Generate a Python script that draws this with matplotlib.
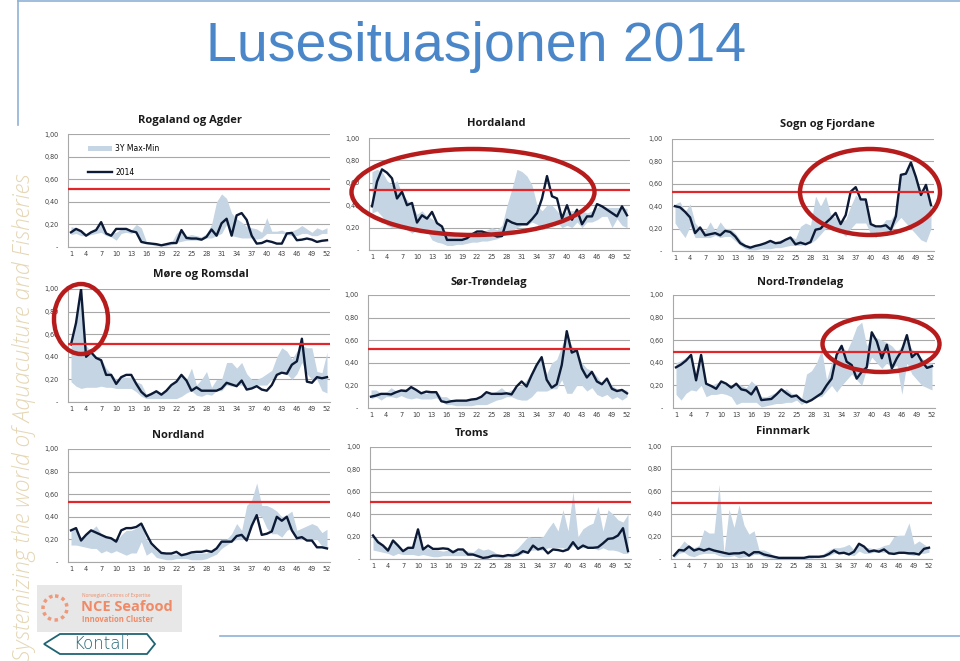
import numpy as np
import matplotlib
matplotlib.use('Agg')
import matplotlib.pyplot as plt
from matplotlib.patches import Ellipse, Rectangle, Polygon, Circle

# ── DATA (lice per fish, week 1-52) ──
weeks = np.arange(1, 53)
week_ticks = [1, 4, 7, 10, 13, 16, 19, 22, 25, 28, 31, 34, 37,
              40, 43, 46, 49, 52]
y_ticks = [0, 0.2, 0.4, 0.6, 0.8, 1.0]
y_labels = ['-', '0,20', '0,40', '0,60', '0,80', '1,00']

rogaland_2014 = [0.13, 0.16, 0.14, 0.10, 0.13, 0.15, 0.22, 0.12, 0.10, 0.16,
                 0.16, 0.16, 0.14, 0.13, 0.045, 0.035, 0.03, 0.025, 0.015, 0.025,
                 0.035, 0.035, 0.15, 0.08, 0.075, 0.075, 0.065, 0.09, 0.155, 0.10,
                 0.21, 0.25, 0.10, 0.28, 0.30, 0.24, 0.10, 0.03, 0.035, 0.055,
                 0.045, 0.03, 0.03, 0.12, 0.125, 0.06, 0.065, 0.075, 0.065, 0.045,
                 0.055, 0.06]
rogaland_min = [0.11, 0.12, 0.10, 0.10, 0.11, 0.12, 0.13, 0.10, 0.09, 0.06,
                0.12, 0.13, 0.12, 0.14, 0.05, 0.03, 0.02, 0.01, 0.01, 0.01,
                0.02, 0.04, 0.05, 0.06, 0.06, 0.06, 0.06, 0.08, 0.08, 0.10,
                0.12, 0.20, 0.10, 0.09, 0.08, 0.08, 0.08, 0.07, 0.08, 0.12,
                0.12, 0.12, 0.12, 0.11, 0.10, 0.10, 0.12, 0.12, 0.10, 0.10,
                0.12, 0.12]
rogaland_max = [0.18, 0.17, 0.15, 0.12, 0.14, 0.15, 0.20, 0.12, 0.12, 0.13,
                0.16, 0.17, 0.15, 0.20, 0.17, 0.05, 0.04, 0.03, 0.02, 0.03,
                0.04, 0.12, 0.16, 0.10, 0.11, 0.10, 0.09, 0.12, 0.20, 0.40,
                0.47, 0.43, 0.30, 0.25, 0.22, 0.18, 0.17, 0.16, 0.13, 0.26,
                0.14, 0.14, 0.15, 0.13, 0.14, 0.16, 0.19, 0.16, 0.13, 0.17,
                0.15, 0.17]

hordaland_2014 = [0.39, 0.61, 0.72, 0.69, 0.64, 0.46, 0.52, 0.40, 0.42, 0.245,
                  0.31, 0.28, 0.34, 0.24, 0.21, 0.09, 0.09, 0.09, 0.09, 0.105,
                  0.14, 0.165, 0.165, 0.15, 0.14, 0.12, 0.125, 0.27, 0.245, 0.23,
                  0.23, 0.23, 0.275, 0.33, 0.46, 0.66, 0.48, 0.46, 0.28, 0.40,
                  0.27, 0.36, 0.23, 0.30, 0.30, 0.41, 0.39, 0.36, 0.33, 0.30,
                  0.39, 0.31]
hordaland_min = [0.33, 0.35, 0.30, 0.22, 0.20, 0.20, 0.20, 0.18, 0.15, 0.18,
                 0.17, 0.17, 0.09, 0.07, 0.06, 0.04, 0.04, 0.05, 0.05, 0.06,
                 0.07, 0.07, 0.08, 0.08, 0.09, 0.10, 0.12, 0.15, 0.17, 0.20,
                 0.22, 0.22, 0.25, 0.23, 0.18, 0.20, 0.22, 0.25, 0.20, 0.22,
                 0.20, 0.25, 0.20, 0.25, 0.25, 0.27, 0.30, 0.30, 0.20, 0.28,
                 0.22, 0.20]
hordaland_max = [0.70, 0.72, 0.70, 0.62, 0.58, 0.62, 0.50, 0.45, 0.40, 0.32,
                 0.35, 0.30, 0.28, 0.24, 0.20, 0.15, 0.14, 0.12, 0.12, 0.14,
                 0.14, 0.16, 0.16, 0.18, 0.20, 0.18, 0.22, 0.40, 0.55, 0.72,
                 0.70, 0.66, 0.58, 0.40, 0.35, 0.40, 0.40, 0.35, 0.30, 0.35,
                 0.35, 0.36, 0.35, 0.33, 0.35, 0.38, 0.40, 0.38, 0.38, 0.38,
                 0.38, 0.37]

sogn_2014 = [0.40, 0.39, 0.35, 0.30, 0.16, 0.21, 0.14, 0.15, 0.16, 0.14,
             0.18, 0.17, 0.13, 0.07, 0.045, 0.03, 0.045, 0.055, 0.07, 0.09,
             0.07, 0.075, 0.10, 0.12, 0.06, 0.075, 0.06, 0.08, 0.19, 0.20,
             0.25, 0.29, 0.34, 0.24, 0.32, 0.53, 0.57, 0.46, 0.46, 0.24,
             0.22, 0.22, 0.23, 0.19, 0.31, 0.68, 0.69, 0.79, 0.66, 0.50,
             0.59, 0.41]
sogn_min = [0.25, 0.18, 0.12, 0.22, 0.12, 0.12, 0.12, 0.12, 0.14, 0.12,
            0.13, 0.13, 0.09, 0.05, 0.02, 0.01, 0.01, 0.02, 0.02, 0.02,
            0.03, 0.03, 0.04, 0.05, 0.05, 0.05, 0.06, 0.07, 0.10, 0.15,
            0.20, 0.20, 0.18, 0.17, 0.13, 0.20, 0.25, 0.25, 0.25, 0.15,
            0.12, 0.17, 0.17, 0.18, 0.25, 0.30, 0.25, 0.20, 0.15, 0.10,
            0.08, 0.20]
sogn_max = [0.42, 0.44, 0.35, 0.42, 0.25, 0.20, 0.18, 0.26, 0.18, 0.26,
            0.20, 0.20, 0.16, 0.10, 0.06, 0.05, 0.05, 0.07, 0.08, 0.09,
            0.08, 0.10, 0.10, 0.13, 0.11, 0.22, 0.25, 0.23, 0.49, 0.40,
            0.49, 0.33, 0.30, 0.27, 0.28, 0.40, 0.50, 0.45, 0.48, 0.25,
            0.21, 0.22, 0.28, 0.28, 0.35, 0.68, 0.70, 0.78, 0.65, 0.55,
            0.58, 0.42]

more_2014 = [0.51, 0.70, 1.00, 0.40, 0.44, 0.39, 0.37, 0.24, 0.24, 0.16,
             0.22, 0.24, 0.24, 0.16, 0.09, 0.05, 0.07, 0.095, 0.065, 0.10,
             0.15, 0.18, 0.24, 0.19, 0.10, 0.13, 0.10, 0.10, 0.10, 0.10,
             0.12, 0.17, 0.155, 0.14, 0.19, 0.11, 0.12, 0.14, 0.11, 0.10,
             0.15, 0.24, 0.26, 0.25, 0.33, 0.36, 0.56, 0.18, 0.17, 0.22,
             0.21, 0.22]
more_min = [0.18, 0.14, 0.12, 0.13, 0.13, 0.13, 0.14, 0.13, 0.13, 0.12,
            0.12, 0.12, 0.12, 0.09, 0.05, 0.03, 0.03, 0.03, 0.03, 0.03,
            0.03, 0.03, 0.05, 0.08, 0.10, 0.06, 0.05, 0.07, 0.06, 0.10,
            0.10, 0.15, 0.14, 0.15, 0.15, 0.12, 0.12, 0.15, 0.15, 0.15,
            0.20, 0.25, 0.28, 0.25, 0.20, 0.25, 0.35, 0.25, 0.20, 0.20,
            0.10, 0.08]
more_max = [0.52, 0.70, 0.95, 0.50, 0.45, 0.40, 0.38, 0.30, 0.25, 0.20,
            0.22, 0.22, 0.22, 0.18, 0.16, 0.07, 0.09, 0.10, 0.08, 0.10,
            0.14, 0.20, 0.24, 0.20, 0.30, 0.15, 0.20, 0.27, 0.13, 0.20,
            0.20, 0.35, 0.35, 0.30, 0.35, 0.25, 0.20, 0.20, 0.22, 0.25,
            0.28, 0.40, 0.48, 0.45, 0.38, 0.45, 0.50, 0.48, 0.48, 0.27,
            0.26, 0.44]

sor_2014 = [0.10, 0.11, 0.125, 0.125, 0.12, 0.14, 0.155, 0.15, 0.185, 0.16,
            0.13, 0.145, 0.14, 0.14, 0.06, 0.05, 0.06, 0.065, 0.065, 0.065,
            0.075, 0.08, 0.10, 0.14, 0.125, 0.125, 0.125, 0.13, 0.12, 0.19,
            0.235, 0.19, 0.29, 0.38, 0.45, 0.25, 0.18, 0.21, 0.38, 0.68,
            0.49, 0.51, 0.35, 0.27, 0.32, 0.235, 0.21, 0.26, 0.17, 0.15,
            0.16, 0.13]
sor_min = [0.08, 0.10, 0.07, 0.10, 0.10, 0.09, 0.11, 0.09, 0.08, 0.09,
           0.08, 0.08, 0.08, 0.09, 0.06, 0.03, 0.03, 0.02, 0.02, 0.02,
           0.02, 0.03, 0.03, 0.03, 0.05, 0.07, 0.08, 0.10, 0.10, 0.08,
           0.07, 0.07, 0.10, 0.15, 0.15, 0.15, 0.17, 0.17, 0.25, 0.13,
           0.13, 0.20, 0.20, 0.15, 0.18, 0.12, 0.10, 0.12, 0.08, 0.10,
           0.07, 0.10]
sor_max = [0.16, 0.16, 0.13, 0.14, 0.18, 0.15, 0.17, 0.17, 0.18, 0.16,
           0.14, 0.13, 0.15, 0.15, 0.10, 0.10, 0.07, 0.07, 0.07, 0.07,
           0.08, 0.09, 0.10, 0.13, 0.13, 0.15, 0.18, 0.14, 0.16, 0.18,
           0.20, 0.25, 0.32, 0.40, 0.44, 0.30, 0.40, 0.43, 0.55, 0.65,
           0.55, 0.50, 0.40, 0.35, 0.33, 0.28, 0.22, 0.25, 0.20, 0.17,
           0.16, 0.16]

nord_2014 = [0.36, 0.385, 0.42, 0.47, 0.245, 0.47, 0.215, 0.195, 0.17, 0.235,
             0.215, 0.18, 0.215, 0.165, 0.155, 0.12, 0.185, 0.07, 0.075, 0.08,
             0.12, 0.165, 0.13, 0.10, 0.11, 0.07, 0.05, 0.07, 0.10, 0.13,
             0.20, 0.26, 0.47, 0.55, 0.41, 0.38, 0.26, 0.32, 0.36, 0.67,
             0.59, 0.44, 0.56, 0.35, 0.44, 0.51, 0.645, 0.45, 0.49, 0.41,
             0.355, 0.37]
nord_min = [0.12, 0.07, 0.13, 0.16, 0.15, 0.20, 0.10, 0.12, 0.12, 0.13,
            0.12, 0.10, 0.03, 0.05, 0.05, 0.05, 0.05, 0.01, 0.02, 0.03,
            0.04, 0.04, 0.05, 0.05, 0.07, 0.03, 0.06, 0.08, 0.10, 0.10,
            0.15, 0.20, 0.14, 0.20, 0.25, 0.30, 0.25, 0.20, 0.35, 0.45,
            0.40, 0.35, 0.40, 0.35, 0.38, 0.12, 0.40, 0.30, 0.25, 0.20,
            0.18, 0.16]
nord_max = [0.40, 0.42, 0.45, 0.45, 0.30, 0.42, 0.22, 0.20, 0.22, 0.24,
            0.20, 0.20, 0.22, 0.20, 0.18, 0.24, 0.20, 0.10, 0.10, 0.12,
            0.14, 0.15, 0.17, 0.13, 0.12, 0.08, 0.30, 0.33, 0.40, 0.52,
            0.25, 0.40, 0.50, 0.55, 0.50, 0.60, 0.72, 0.76, 0.55, 0.65,
            0.62, 0.60, 0.58, 0.55, 0.50, 0.55, 0.60, 0.52, 0.48, 0.44,
            0.40, 0.40]

nordland_2014 = [0.28, 0.30, 0.19, 0.24, 0.28, 0.26, 0.24, 0.22, 0.21, 0.18,
                 0.28, 0.30, 0.30, 0.31, 0.34, 0.25, 0.165, 0.12, 0.08, 0.075,
                 0.075, 0.09, 0.06, 0.07, 0.085, 0.09, 0.09, 0.10, 0.09, 0.12,
                 0.18, 0.18, 0.18, 0.23, 0.24, 0.19, 0.32, 0.415, 0.24, 0.25,
                 0.27, 0.40, 0.365, 0.40, 0.28, 0.21, 0.22, 0.19, 0.19, 0.13,
                 0.13, 0.12]
nordland_min = [0.15, 0.15, 0.14, 0.13, 0.12, 0.12, 0.08, 0.10, 0.08, 0.10,
                0.08, 0.06, 0.08, 0.08, 0.18, 0.06, 0.09, 0.04, 0.03, 0.02,
                0.02, 0.03, 0.03, 0.03, 0.02, 0.02, 0.02, 0.03, 0.05, 0.07,
                0.12, 0.15, 0.18, 0.20, 0.20, 0.20, 0.30, 0.42, 0.40, 0.30,
                0.25, 0.25, 0.22, 0.28, 0.30, 0.20, 0.20, 0.20, 0.20, 0.20,
                0.14, 0.12]
nordland_max = [0.30, 0.28, 0.22, 0.25, 0.28, 0.32, 0.25, 0.22, 0.20, 0.18,
                0.24, 0.28, 0.28, 0.30, 0.34, 0.20, 0.15, 0.10, 0.08, 0.07,
                0.07, 0.07, 0.07, 0.07, 0.08, 0.08, 0.08, 0.08, 0.10, 0.14,
                0.20, 0.20, 0.25, 0.34, 0.28, 0.50, 0.55, 0.70, 0.50, 0.50,
                0.48, 0.45, 0.40, 0.42, 0.45, 0.28, 0.30, 0.32, 0.34, 0.32,
                0.26, 0.29]

troms_2014 = [0.21, 0.15, 0.12, 0.075, 0.165, 0.12, 0.07, 0.10, 0.10, 0.265,
              0.085, 0.12, 0.09, 0.09, 0.095, 0.09, 0.06, 0.085, 0.085, 0.04,
              0.04, 0.025, 0.01, 0.015, 0.03, 0.03, 0.025, 0.035, 0.03, 0.04,
              0.07, 0.055, 0.12, 0.085, 0.10, 0.05, 0.085, 0.08, 0.07, 0.085,
              0.15, 0.09, 0.12, 0.10, 0.10, 0.105, 0.14, 0.18, 0.185, 0.21,
              0.275, 0.07]
troms_min = [0.08, 0.07, 0.06, 0.05, 0.03, 0.05, 0.04, 0.04, 0.04, 0.03,
             0.04, 0.03, 0.02, 0.02, 0.03, 0.03, 0.03, 0.03, 0.03, 0.03,
             0.03, 0.03, 0.03, 0.02, 0.02, 0.01, 0.01, 0.02, 0.02, 0.03,
             0.05, 0.07, 0.08, 0.08, 0.08, 0.10, 0.10, 0.10, 0.10, 0.08,
             0.12, 0.10, 0.10, 0.10, 0.10, 0.08, 0.10, 0.08, 0.08, 0.07,
             0.05, 0.05]
troms_max = [0.20, 0.17, 0.13, 0.10, 0.16, 0.12, 0.08, 0.10, 0.10, 0.22,
             0.10, 0.10, 0.08, 0.08, 0.07, 0.08, 0.08, 0.07, 0.08, 0.07,
             0.06, 0.10, 0.08, 0.09, 0.07, 0.04, 0.03, 0.04, 0.06, 0.10,
             0.15, 0.20, 0.19, 0.19, 0.20, 0.27, 0.33, 0.25, 0.44, 0.25,
             0.60, 0.20, 0.27, 0.30, 0.32, 0.47, 0.25, 0.44, 0.40, 0.35,
             0.33, 0.40]

finnmark_2014 = [0.03, 0.08, 0.075, 0.11, 0.075, 0.09, 0.075, 0.09, 0.075, 0.065,
                 0.055, 0.045, 0.05, 0.05, 0.06, 0.03, 0.06, 0.06, 0.04, 0.03,
                 0.02, 0.01, 0.01, 0.01, 0.01, 0.01, 0.01, 0.02, 0.02, 0.02,
                 0.025, 0.045, 0.075, 0.05, 0.055, 0.04, 0.065, 0.135, 0.11, 0.065,
                 0.075, 0.065, 0.085, 0.05, 0.045, 0.055, 0.055, 0.05, 0.05, 0.04,
                 0.09, 0.10]
finnmark_min = [0.01, 0.05, 0.06, 0.03, 0.02, 0.04, 0.05, 0.05, 0.05, 0.03,
                0.02, 0.02, 0.03, 0.01, 0.02, 0.02, 0.04, 0.04, 0.02, 0.01,
                0.005, 0.0, 0.0, 0.0, 0.0, 0.0, 0.0, 0.0, 0.01, 0.01,
                0.02, 0.03, 0.05, 0.05, 0.05, 0.04, 0.03, 0.07, 0.05, 0.05,
                0.06, 0.06, 0.06, 0.06, 0.05, 0.05, 0.05, 0.04, 0.03, 0.05,
                0.05, 0.06]
finnmark_max = [0.05, 0.10, 0.16, 0.12, 0.10, 0.12, 0.26, 0.23, 0.23, 0.66,
                0.05, 0.44, 0.28, 0.48, 0.30, 0.22, 0.25, 0.08, 0.08, 0.06,
                0.03, 0.02, 0.01, 0.01, 0.01, 0.01, 0.02, 0.02, 0.02, 0.03,
                0.05, 0.08, 0.10, 0.10, 0.11, 0.13, 0.08, 0.13, 0.10, 0.10,
                0.09, 0.10, 0.12, 0.13, 0.20, 0.21, 0.21, 0.32, 0.13, 0.16,
                0.13, 0.10]

# regions: title, series, red limit, panel box in px (left, right, top=1.0, bottom=0),
# title centre in px
panels = [
    ('Rogaland og Agder', rogaland_2014, rogaland_min, rogaland_max, 0.51, (68, 330, 134, 247), (190, 120)),
    ('Hordaland', hordaland_2014, hordaland_min, hordaland_max, 0.535, (369, 630, 138, 250), (496, 123)),
    ('Sogn og Fjordane', sogn_2014, sogn_min, sogn_max, 0.53, (672, 934, 139, 251), (827, 125)),
    ('Møre og Romsdal', more_2014, more_min, more_max, 0.51, (68, 330, 289, 402), (201, 275)),
    ('Sør-Trøndelag', sor_2014, sor_min, sor_max, 0.52, (368, 630, 295, 408), (489, 282)),
    ('Nord-Trøndelag', nord_2014, nord_min, nord_max, 0.50, (673, 935, 295, 408), (800, 282)),
    ('Nordland', nordland_2014, nordland_min, nordland_max, 0.53, (68, 330, 449, 562), (178, 435)),
    ('Troms', troms_2014, troms_min, troms_max, 0.51, (370, 631, 447, 559), (472, 433)),
    ('Finnmark', finnmark_2014, finnmark_min, finnmark_max, 0.50, (671, 932, 446, 559), (783, 432)),
]

W, H = 960, 661
BAND = '#c5d5e3'
LINE = '#0c1a36'
RED = '#e3262a'
GRID = '#a8a8a8'

fig = plt.figure(figsize=(W / 100, H / 100), dpi=100)
fig.patch.set_facecolor('white')

# overlay in pixel coordinates (titles, ellipses, decorations)
ov = fig.add_axes([0, 0, 1, 1], zorder=10)
ov.set_xlim(0, W)
ov.set_ylim(H, 0)
ov.axis('off')
ov.patch.set_alpha(0)

# ── SMALL CHARTS ──
for i, (name, line, lo, hi, limit, box, tpos) in enumerate(panels):
    l, r, t, b = box
    ax = fig.add_axes([l / W, 1 - b / H, (r - l) / W, (b - t) / H])
    ax.fill_between(weeks, lo, hi, color=BAND, lw=0, label='3Y Max-Min', zorder=1)
    ax.plot(weeks, line, color=LINE, lw=1.7, label='2014', zorder=3)
    ax.axhline(limit, color=RED, lw=1.6, zorder=4)
    ax.set_xlim(0.4, 52.6)
    ax.set_ylim(0, 1.0)
    ax.set_yticks(y_ticks)
    ax.set_yticklabels(y_labels)
    ax.set_xticks(week_ticks)
    ax.tick_params(axis='both', labelsize=4.7, colors='#404040', length=0, pad=3)
    ax.tick_params(axis='y', pad=7)
    ax.grid(axis='y', color=GRID, lw=0.8)
    ax.set_axisbelow(True)
    for s in ['top', 'right']:
        ax.spines[s].set_visible(False)
    for s in ['left', 'bottom']:
        ax.spines[s].set_color(GRID)
        ax.spines[s].set_linewidth(0.8)
    ax.set_facecolor('none')
    ov.text(tpos[0], tpos[1], name, ha='center', va='center', fontsize=8,
            fontweight='bold', family='Open Sans', color='#1a1a1a')
    if i == 0:
        ax.legend(loc='upper left', bbox_to_anchor=(0.05, 0.97), frameon=False,
                  fontsize=5.5, labelspacing=1.9, handlelength=3.2,
                  handleheight=0.6, handletextpad=0.4)

ov.text(476, 47, 'Lusesituasjonen 2014', ha='center', va='center',
        fontsize=40, color='#4a86c8', family='Liberation Sans')

ov.plot([18, W], [1, 1], color='#8fb3d6', lw=1.2)
ov.plot([18, 18], [0, 125], color='#8fb3d6', lw=1.2)
ov.plot([220, W], [636, 636], color='#8fb3d6', lw=1.2)

ov.text(24, 661, 'Systemizing the world of Aquaculture and Fisheries',
        rotation=90, ha='center', va='bottom', fontsize=16.5,
        color='#e5d7b5', family='Open Sans', style='italic', fontweight='light')

ell_color = '#b71c1c'
for cx, cy, ew, eh in [(473, 192, 243, 86), (870, 192, 140, 86),
                       (81, 319, 54, 70), (881, 344, 117, 56)]:
    ov.add_patch(Ellipse((cx, cy), ew, eh, fill=False, ec=ell_color, lw=3.2))

# NCE Seafood logo
ov.add_patch(Rectangle((37, 585), 145, 47, fc='#e7e7e7', ec='none'))
ov.add_patch(Circle((55, 608), 12, fill=False, ec='#f0987a', lw=2.5, ls=(0, (1, 1))))
ov.text(82, 595, 'Norwegian Centres of Expertise', fontsize=3.3, color='#f08a66',
        va='center', family='Open Sans')
ov.text(81, 607, 'NCE Seafood', fontsize=10.5, color='#f08a66', va='center',
        family='Open Sans', fontweight='bold')
ov.text(82, 620, 'Innovation Cluster', fontsize=5.5, color='#f08a66', va='center',
        family='Open Sans', fontweight='bold')

# Kontali logo
ov.add_patch(Polygon([(44, 644), (60, 634), (147, 634), (155, 644), (147, 654), (60, 654)],
                     closed=True, fill=False, ec='#1f6472', lw=1.3))
ov.text(101, 644, 'Kontali', fontsize=12, color='#1f6472', ha='center', va='center',
        family='DejaVu Sans', fontweight='light')

fig.savefig('out.png', dpi=100, facecolor='white')
